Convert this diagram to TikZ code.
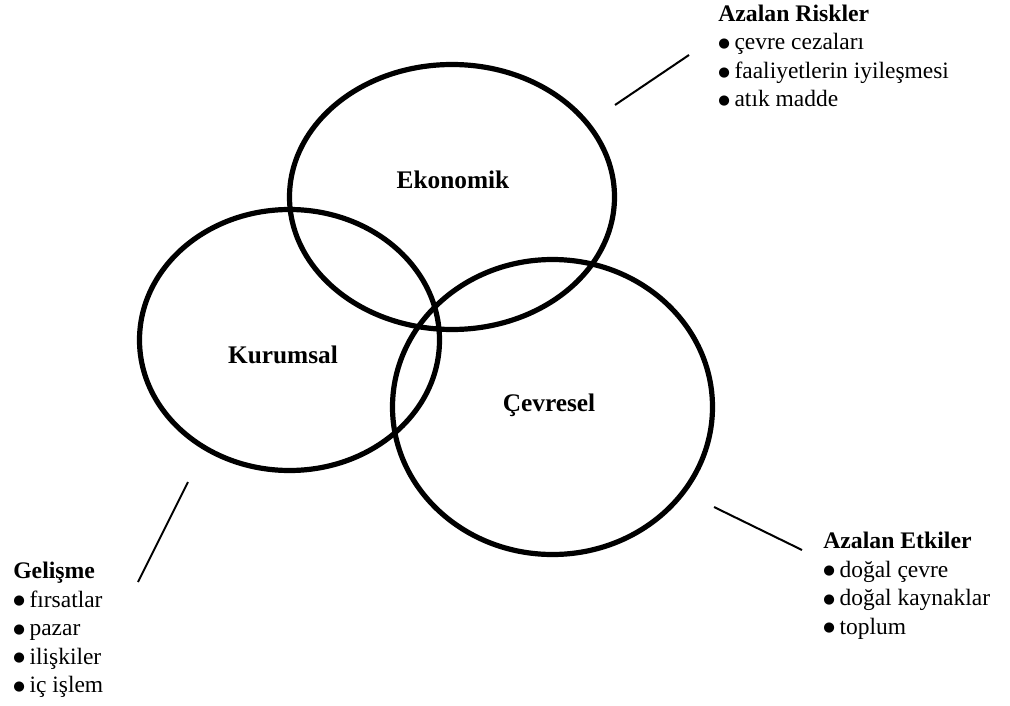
\documentclass[tikz,border=0pt]{standalone}
\usepackage{fontspec}
\setmainfont{Liberation Serif}
\newfontfamily\symfont{DejaVu Sans}
\newcommand{\blt}{\raisebox{1.6pt}{\symfont\fontsize{10}{10}\selectfont ●}\hspace{3.5pt}}
\usetikzlibrary{shapes.geometric}
\begin{document}
\begin{tikzpicture}[x=0.75pt,y=-0.75pt,
  ring/.style={draw=black, line width=3.9pt, ellipse, inner sep=0pt, outer sep=0pt},
  ringlabel/.style={anchor=base, inner sep=0pt, font=\fontsize{19}{23}\selectfont\bfseries},
  head/.style={anchor=base west, inner sep=0pt, font=\fontsize{17.8}{21}\selectfont\bfseries},
  item/.style={anchor=base west, inner sep=0pt, font=\fontsize{17.6}{21}\selectfont},
  leader/.style={draw=black, line width=1.5pt}]
\useasboundingbox[fill=white] (0,0) rectangle (1010,706);

% the three overlapping rings
\node[ring, minimum width=243.75pt, minimum height=198.75pt] (eko) at (452,197) {};
\node[ring, minimum width=225pt, minimum height=195.75pt] (kur) at (289.5,340) {};
\node[ring, minimum width=240pt, minimum height=221.25pt] (cev) at (552.5,407) {};

\node[ringlabel] (ekoL) at (453,189) {Ekonomik};
\node[ringlabel] (kurL) at (283,363) {Kurumsal};
\node[ringlabel] (cevL) at (549,411) {Çevresel};

% reduced risks
\node[head] (rkH) at (718,22) {Azalan Riskler};
\node[item] (rk1) at (718,50) {\blt çevre cezaları};
\node[item] (rk2) at (718,78.5) {\blt faaliyetlerin iyileşmesi};
\node[item] (rk3) at (718,107) {\blt atık madde};

% development
\node[head] (gH) at (13,578) {Gelişme};
\node[item] (g1) at (13,607) {\blt fırsatlar};
\node[item] (g2) at (13,635.5) {\blt pazar};
\node[item] (g3) at (13,664) {\blt ilişkiler};
\node[item] (g4) at (13,692.5) {\blt iç işlem};

% reduced impacts
\node[head] (eH) at (823,548) {Azalan Etkiler};
\node[item] (e1) at (823,577) {\blt doğal çevre};
\node[item] (e2) at (823,605.5) {\blt doğal kaynaklar};
\node[item] (e3) at (823,634) {\blt toplum};

% leader lines
\coordinate (rkA) at (615,105);
\coordinate (rkB) at (689,55);
\coordinate (gA) at (188,482);
\coordinate (gB) at (138,582);
\coordinate (eA) at (714,507);
\coordinate (eB) at (802,550);
\draw[leader] (rkA) -- (rkB);
\draw[leader] (gA) -- (gB);
\draw[leader] (eA) -- (eB);
\end{tikzpicture}
\end{document}
